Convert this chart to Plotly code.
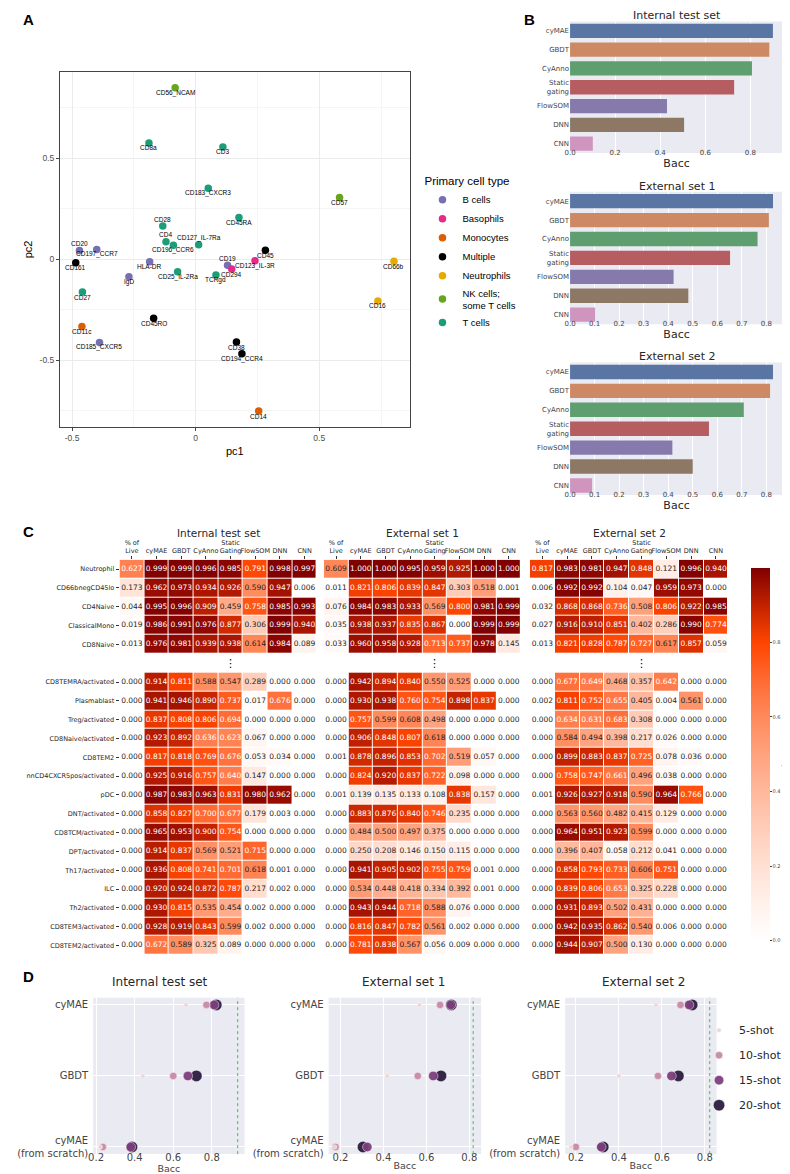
import plotly.graph_objects as go

W, H = 790, 1174
def fx(x): return x / W
def fy(y): return 1 - y / H

FONT = "DejaVu Sans"
GG = "Liberation Sans, Arial, sans-serif"

# ---------------- Panel A data ----------------
marker_names = ["CD56_NCAM", "CD8a", "CD3", "CD183_CXCR3", "CD57", "CD45RA", "CD28", "CD4",
                "CD196_CCR6", "CD127_IL-7Ra", "CD20", "CD197_CCR7", "CD161", "HLA-DR", "CD45",
                "CD123_IL-3R", "CD19", "CD294", "CD25_IL-2Ra", "TCRgd", "IgD", "CD66b", "CD27",
                "CD16", "CD45RO", "CD11c", "CD185_CXCR5", "CD38", "CD194_CCR4", "CD14"]
pc1 = [-0.083, -0.189, 0.110, 0.051, 0.582, 0.175, -0.133, -0.120, -0.090, 0.012, -0.470, -0.400,
       -0.485, -0.186, 0.282, 0.240, 0.129, 0.146, -0.073, 0.082, -0.270, 0.802, -0.458, 0.737,
       -0.170, -0.460, -0.389, 0.165, 0.187, 0.255]
pc2 = [0.849, 0.576, 0.556, 0.352, 0.306, 0.207, 0.164, 0.086, 0.069, 0.072, 0.043, 0.048,
       -0.018, -0.013, 0.044, -0.008, -0.030, -0.049, -0.063, -0.079, -0.087, -0.010, -0.163,
       -0.207, -0.293, -0.334, -0.413, -0.411, -0.469, -0.753]
cell_type = ["NK", "T", "T", "T", "NK", "T", "T", "T", "T", "T", "B", "B", "Multiple", "B", "Multiple",
             "Basophils", "B", "Basophils", "T", "T", "B", "Neutrophils", "T", "Neutrophils",
             "Multiple", "Monocytes", "B", "Multiple", "Multiple", "Monocytes"]
type_keys = ["B", "Basophils", "Monocytes", "Multiple", "Neutrophils", "NK", "T"]
type_labels = ["B cells", "Basophils", "Monocytes", "Multiple", "Neutrophils",
               "NK cells;<br>some T cells", "T cells"]
# style
type_colors = ["#7570b3", "#e7298a", "#d95f02", "#000000", "#e6ab02", "#66a61e", "#1b9e77"]
labels_above = {"CD20", "CD28", "CD4", "CD127_IL-7Ra", "CD19"}

# ---------------- Panel B data ----------------
methods = ["cyMAE", "GBDT", "CyAnno", "Static<br>gating", "FlowSOM", "DNN", "CNN"]
bacc_internal = [0.900, 0.884, 0.807, 0.728, 0.430, 0.506, 0.101]
bacc_ext1 = [0.827, 0.810, 0.764, 0.652, 0.422, 0.482, 0.102]
bacc_ext2 = [0.827, 0.815, 0.708, 0.566, 0.417, 0.500, 0.090]
method_colors = ["#5975a4", "#cc8963", "#5f9e6e", "#b55d60", "#857aab", "#8d7866", "#d095bf"]

# ---------------- Panel C data ----------------
hm_cols = ["% of<br>Live", "cyMAE", "GBDT", "CyAnno", "Static<br>Gating", "FlowSOM", "DNN", "CNN"]
hm_rows = ["Neutrophil", "CD66bnegCD45lo", "CD4Naive", "ClassicalMono", "CD8Naive",
           "CD8TEMRA/activated", "Plasmablast", "Treg/activated", "CD8Naive/activated", "CD8TEM2",
           "nnCD4CXCR5pos/activated", "pDC", "DNT/activated", "CD8TCM/activated", "DPT/activated",
           "Th17/activated", "ILC", "Th2/activated", "CD8TEM3/activated", "CD8TEM2/activated"]
acc_internal = [
    [0.627, 0.999, 0.999, 0.996, 0.985, 0.791, 0.998, 0.997],
    [0.173, 0.962, 0.973, 0.934, 0.926, 0.590, 0.947, 0.006],
    [0.044, 0.995, 0.996, 0.909, 0.459, 0.758, 0.985, 0.993],
    [0.019, 0.986, 0.991, 0.976, 0.877, 0.306, 0.999, 0.940],
    [0.013, 0.976, 0.981, 0.939, 0.938, 0.614, 0.984, 0.089],
    [0.000, 0.914, 0.811, 0.588, 0.547, 0.289, 0.000, 0.000],
    [0.000, 0.941, 0.946, 0.890, 0.737, 0.017, 0.676, 0.000],
    [0.000, 0.837, 0.808, 0.806, 0.694, 0.000, 0.000, 0.000],
    [0.000, 0.923, 0.892, 0.636, 0.623, 0.067, 0.000, 0.000],
    [0.000, 0.817, 0.818, 0.769, 0.676, 0.053, 0.034, 0.000],
    [0.000, 0.925, 0.916, 0.757, 0.640, 0.147, 0.000, 0.000],
    [0.000, 0.987, 0.983, 0.963, 0.831, 0.980, 0.962, 0.000],
    [0.000, 0.858, 0.827, 0.700, 0.677, 0.179, 0.003, 0.000],
    [0.000, 0.965, 0.953, 0.900, 0.754, 0.000, 0.000, 0.000],
    [0.000, 0.914, 0.837, 0.569, 0.521, 0.715, 0.000, 0.000],
    [0.000, 0.936, 0.808, 0.741, 0.701, 0.618, 0.001, 0.000],
    [0.000, 0.920, 0.924, 0.872, 0.787, 0.217, 0.002, 0.000],
    [0.000, 0.930, 0.815, 0.535, 0.454, 0.002, 0.000, 0.000],
    [0.000, 0.928, 0.919, 0.843, 0.599, 0.002, 0.000, 0.000],
    [0.000, 0.672, 0.589, 0.325, 0.089, 0.000, 0.000, 0.000],
]
acc_ext1 = [
    [0.609, 1.000, 1.000, 0.995, 0.959, 0.925, 1.000, 1.000],
    [0.011, 0.821, 0.806, 0.839, 0.847, 0.303, 0.518, 0.001],
    [0.076, 0.984, 0.983, 0.933, 0.569, 0.800, 0.981, 0.999],
    [0.035, 0.938, 0.937, 0.835, 0.867, 0.000, 0.999, 0.999],
    [0.033, 0.960, 0.958, 0.928, 0.713, 0.737, 0.978, 0.145],
    [0.000, 0.942, 0.894, 0.840, 0.550, 0.525, 0.000, 0.000],
    [0.000, 0.930, 0.938, 0.760, 0.754, 0.898, 0.837, 0.000],
    [0.000, 0.757, 0.599, 0.608, 0.498, 0.000, 0.000, 0.000],
    [0.000, 0.906, 0.848, 0.807, 0.618, 0.000, 0.000, 0.000],
    [0.001, 0.878, 0.896, 0.853, 0.702, 0.519, 0.057, 0.000],
    [0.000, 0.824, 0.920, 0.837, 0.722, 0.098, 0.000, 0.000],
    [0.001, 0.139, 0.135, 0.133, 0.108, 0.838, 0.157, 0.000],
    [0.000, 0.883, 0.876, 0.840, 0.746, 0.235, 0.000, 0.000],
    [0.000, 0.484, 0.500, 0.497, 0.375, 0.000, 0.000, 0.000],
    [0.000, 0.250, 0.208, 0.146, 0.150, 0.115, 0.000, 0.000],
    [0.000, 0.941, 0.905, 0.902, 0.755, 0.759, 0.001, 0.000],
    [0.000, 0.534, 0.448, 0.418, 0.334, 0.392, 0.001, 0.000],
    [0.000, 0.943, 0.944, 0.718, 0.588, 0.076, 0.000, 0.000],
    [0.000, 0.816, 0.847, 0.782, 0.561, 0.002, 0.000, 0.000],
    [0.000, 0.781, 0.838, 0.567, 0.056, 0.009, 0.000, 0.000],
]
acc_ext2 = [
    [0.817, 0.983, 0.981, 0.947, 0.848, 0.121, 0.996, 0.940],
    [0.006, 0.992, 0.992, 0.104, 0.047, 0.959, 0.973, 0.000],
    [0.032, 0.868, 0.868, 0.736, 0.508, 0.806, 0.922, 0.985],
    [0.027, 0.916, 0.910, 0.851, 0.402, 0.286, 0.990, 0.774],
    [0.013, 0.821, 0.828, 0.787, 0.727, 0.617, 0.857, 0.059],
    [0.000, 0.677, 0.649, 0.468, 0.357, 0.642, 0.000, 0.000],
    [0.002, 0.811, 0.752, 0.655, 0.405, 0.004, 0.561, 0.000],
    [0.000, 0.634, 0.631, 0.683, 0.308, 0.000, 0.000, 0.000],
    [0.000, 0.584, 0.494, 0.398, 0.217, 0.026, 0.000, 0.000],
    [0.000, 0.899, 0.883, 0.837, 0.725, 0.078, 0.036, 0.000],
    [0.000, 0.758, 0.747, 0.661, 0.496, 0.038, 0.000, 0.000],
    [0.001, 0.926, 0.927, 0.918, 0.590, 0.964, 0.766, 0.000],
    [0.000, 0.563, 0.560, 0.482, 0.415, 0.129, 0.000, 0.000],
    [0.000, 0.964, 0.951, 0.923, 0.599, 0.000, 0.000, 0.000],
    [0.000, 0.396, 0.407, 0.058, 0.212, 0.041, 0.000, 0.000],
    [0.000, 0.858, 0.793, 0.733, 0.606, 0.751, 0.000, 0.000],
    [0.000, 0.839, 0.806, 0.653, 0.325, 0.228, 0.000, 0.000],
    [0.000, 0.931, 0.893, 0.502, 0.431, 0.000, 0.000, 0.000],
    [0.000, 0.942, 0.935, 0.862, 0.540, 0.006, 0.000, 0.000],
    [0.000, 0.944, 0.907, 0.500, 0.130, 0.000, 0.000, 0.000],
]
heat_scale = [[0.0, "#ffffff"], [0.1, "#fff1eb"], [0.2, "#ffe0d3"], [0.3, "#ffcdb9"],
              [0.4, "#ffb89c"], [0.5, "#ffa27e"], [0.6, "#ff8a5c"], [0.7, "#ff6a33"],
              [0.8, "#ff4500"], [0.9, "#c22200"], [1.0, "#800000"]]

# ---------------- Panel D data ----------------
shots = ["5-shot", "10-shot", "15-shot", "20-shot"]
d_models = ["cyMAE", "GBDT", "cyMAE<br>(from scratch)"]
internal_shot = [[0.666, 0.443, 0.222], [0.772, 0.600, 0.235], [0.812, 0.676, 0.380], [0.823, 0.720, 0.386]]
ext1_shot = [[0.568, 0.418, 0.173], [0.664, 0.560, 0.177], [0.714, 0.632, 0.325], [0.716, 0.668, 0.305]]
ext2_shot = [[0.573, 0.400, 0.177], [0.687, 0.582, 0.200], [0.727, 0.645, 0.318], [0.741, 0.677, 0.327]]
full_cymae_bacc = [0.934, 0.818, 0.823]
shot_colors = ["#efd4cf", "#c98ba5", "#7e3f7e", "#2c1d3f"]
shot_sizes = [4.5, 7.5, 9.5, 11.5]

fig = go.Figure()
layout = dict(width=W, height=H, margin=dict(l=0, r=0, t=0, b=0),
              paper_bgcolor="white", plot_bgcolor="white", showlegend=True)
annotations = []
shapes = []

def ann(x, y, text, size, family=FONT, color="#262626", bold=False, **kw):
    if bold:
        text = "<b>" + text + "</b>"
    d = dict(x=fx(x), y=fy(y), xref="paper", yref="paper", text=text, showarrow=False,
             font=dict(family=family, size=size, color=color), xanchor="center", yanchor="middle")
    d.update(kw)
    annotations.append(d)

# ================= Panel A =================
for key, lab, col in zip(type_keys, type_labels, type_colors):
    idx = [i for i, t in enumerate(cell_type) if t == key]
    fig.add_trace(go.Scatter(x=[pc1[i] for i in idx], y=[pc2[i] for i in idx], mode="markers",
                             name=lab, marker=dict(size=7.5, color=col), xaxis="x", yaxis="y",
                             legend="legend", hoverinfo="skip"))
for name, x, y in zip(marker_names, pc1, pc2):
    annotations.append(dict(x=x, y=y, xref="x", yref="y", text=name, showarrow=False,
                            font=dict(family=GG, size=6.5, color="black"),
                            yshift=7 if name in labels_above else -5))
layout["xaxis"] = dict(domain=[fx(47), fx(405)], range=[-0.549, 0.866], anchor="y",
                       tickvals=[-0.5, 0, 0.5], ticktext=["-0.5", "0", "0.5"],
                       showgrid=True, gridcolor="#ebebeb", gridwidth=1, zeroline=False,
                       minor=dict(tickmode="array", tickvals=[-0.25, 0.25, 0.75], showgrid=True,
                                  gridcolor="#f5f5f5", gridwidth=0.7, ticks=""),
                       showline=True, mirror=True, linecolor="#444", linewidth=1,
                       ticks="outside", ticklen=3, tickcolor="#444",
                       tickfont=dict(family=GG, size=8.5, color="#4d4d4d"),
                       title=dict(text="pc1", font=dict(family=GG, size=11, color="black"), standoff=4))
layout["yaxis"] = dict(domain=[fy(421), fy(64)], range=[-0.833, 0.929], anchor="x",
                       tickvals=[-0.5, 0, 0.5], ticktext=["-0.5", "0", "0.5"],
                       showgrid=True, gridcolor="#ebebeb", gridwidth=1, zeroline=False,
                       minor=dict(tickmode="array", tickvals=[-0.75, -0.25, 0.25, 0.75], showgrid=True,
                                  gridcolor="#f5f5f5", gridwidth=0.7, ticks=""),
                       showline=True, mirror=True, linecolor="#444", linewidth=1,
                       ticks="outside", ticklen=3, tickcolor="#444",
                       tickfont=dict(family=GG, size=8.5, color="#4d4d4d"),
                       title=dict(text="pc2", font=dict(family=GG, size=11, color="black"), standoff=4))
layout["legend"] = dict(x=fx(418), y=fy(163), xanchor="left", yanchor="top",
                        title=dict(text="Primary cell type", font=dict(family=GG, size=11.5, color="black")),
                        font=dict(family=GG, size=9.5, color="black"), itemsizing="trace",
                        bgcolor="rgba(0,0,0,0)")

# ================= Panel B =================
b_sets = [(bacc_internal, "Internal test set", (13.6, 145.6), 0.945, 0.2, 8),
          (bacc_ext1, "External set 1", (184.5, 317.5), 0.868, 0.1, 179),
          (bacc_ext2, "External set 2", (356, 489), 0.868, 0.1, 350)]
for k, (vals, title, (y0, y1), xmax, dt, ty) in enumerate(b_sets):
    n = 2 + k
    fig.add_trace(go.Bar(x=vals, y=methods, orientation="h", marker=dict(color=method_colors, line=dict(width=0)),
                         width=0.76, showlegend=False, hoverinfo="skip", xaxis=f"x{n}", yaxis=f"y{n}"))
    layout[f"xaxis{n}"] = dict(domain=[fx(569), fx(787)], range=[0, xmax], anchor=f"y{n}", dtick=dt, tick0=0,
                               tickformat=".1f", showgrid=True, gridcolor="white", gridwidth=1,
                               zeroline=False, showline=False, ticks="", ticklabelstandoff=-6,
                               tickfont=dict(family=FONT, size=7, color="#444"),
                               title=dict(text="Bacc", font=dict(family=FONT, size=11, color="#262626"), standoff=0))
    layout[f"yaxis{n}"] = dict(domain=[fy(y1), fy(y0)], anchor=f"x{n}", autorange="reversed",
                               type="category", showgrid=False, zeroline=False, ticks="",
                               tickfont=dict(family=FONT, size=7, color="#444"))
    shapes.append(dict(type="rect", xref=f"x{n} domain", yref=f"y{n} domain", x0=0, x1=1, y0=0, y1=1,
                       fillcolor="#eaeaf2", line=dict(width=0), layer="below"))
    ann(678, ty, title, 11)

# ================= Panel C =================
c_sets = [(acc_internal, "Internal test set", (108, 310)),
          (acc_ext1, "External set 1", (317, 519)),
          (acc_ext2, "External set 2", (528, 731))]
ytick_vals = [0, 1, 2, 3, 4] + list(range(6, 21))
for k, (mat, title, (x0, x1)) in enumerate(c_sets):
    n = 5 + k
    z = mat[:5] + [[None] * 8] + mat[5:]
    hm = go.Heatmap(z=z, x=list(range(8)), y=list(range(21)), zmin=0, zmax=1, colorscale=heat_scale,
                    xgap=1, ygap=1, hoverinfo="skip", xaxis=f"x{n}", yaxis=f"y{n}", showscale=(k == 2))
    if k == 2:
        hm.colorbar = dict(x=fx(744), xanchor="left", y=fy(552), yanchor="top", len=393, lenmode="pixels",
                           thickness=19, thicknessmode="pixels", outlinewidth=0,
                           tickvals=[0, 0.2, 0.4, 0.6, 0.8], ticktext=["0.0", "0.2", "0.4", "0.6", "0.8"],
                           ticks="outside", ticklen=2, tickfont=dict(family=FONT, size=5, color="#444"),
                           title=dict(text="Accuracy", side="right", font=dict(family=FONT, size=6, color="#444")))
    fig.add_trace(hm)
    tx, ty_, tt, tc = [], [], [], []
    for r, row in enumerate(z):
        if row[0] is None:
            continue
        for c, v in enumerate(row):
            tx.append(c); ty_.append(r); tt.append(f"{v:.3f}")
            tc.append("white" if v >= 0.62 else "#262626")
    fig.add_trace(go.Scatter(x=tx, y=ty_, mode="text", text=tt, textfont=dict(family=FONT, size=7.5, color=tc),
                             hoverinfo="skip", showlegend=False, xaxis=f"x{n}", yaxis=f"y{n}"))
    layout[f"xaxis{n}"] = dict(domain=[fx(x0), fx(x1)], range=[-0.5, 7.5], anchor=f"y{n}", side="top",
                               tickvals=list(range(8)), ticktext=hm_cols, tickangle=0,
                               showgrid=False, zeroline=False,
                               ticks="outside", ticklen=3, tickcolor="#333", tickwidth=0.8,
                               tickfont=dict(family=FONT, size=6.5, color="#262626"))
    layout[f"yaxis{n}"] = dict(domain=[fy(951), fy(554)], range=[20.5, -0.5], anchor=f"x{n}",
                               tickvals=ytick_vals, ticktext=hm_rows, showgrid=False, zeroline=False,
                               showticklabels=(k == 0), ticks="outside" if k == 0 else "",
                               ticklen=3, tickcolor="#333", tickwidth=0.8,
                               tickfont=dict(family=FONT, size=6.5, color="#262626"))
    annotations.append(dict(x=4, y=5, xref=f"x{n}", yref=f"y{n}", text="⋮", showarrow=False,
                            font=dict(family=FONT, size=11, color="black")))
    ann((x0 + x1) / 2, 527, title, 10.5)

# ================= Panel D =================
d_sets = [(internal_shot, "Internal test set", (81, 236), (0.185, 0.97), 149),
          (ext1_shot, "External set 1", (322, 478), (0.145, 0.855), 399),
          (ext2_shot, "External set 2", (564, 719), (0.15, 0.855), 644)]
for k, (data, title, (x0, x1), rng, tcx) in enumerate(d_sets):
    n = 8 + k
    for s in [3, 2, 1, 0]:
        fig.add_trace(go.Scatter(x=data[s], y=[0, 1, 2], mode="markers", name=shots[s],
                                 marker=dict(size=shot_sizes[s], color=shot_colors[s], opacity=0.95,
                                             line=dict(color="white", width=0.5)),
                                 legend="legend2", legendgroup=shots[s], legendrank=s + 1,
                                 showlegend=(k == 0), hoverinfo="skip", xaxis=f"x{n}", yaxis=f"y{n}"))
    layout[f"xaxis{n}"] = dict(domain=[fx(x0), fx(x1)], range=list(rng), anchor=f"y{n}",
                               tickvals=[0.2, 0.4, 0.6, 0.8], tickformat=".1f",
                               showgrid=True, gridcolor="white", gridwidth=1, zeroline=False, ticks="",
                               ticklabelstandoff=-4,
                               tickfont=dict(family=FONT, size=10, color="#444"),
                               title=dict(text="Bacc", font=dict(family=FONT, size=9.5, color="#444"), standoff=0))
    layout[f"yaxis{n}"] = dict(domain=[fy(1151), fy(994)], range=[2.1, -0.1], anchor=f"x{n}",
                               tickvals=[0, 1, 2], ticktext=d_models, showgrid=True, gridcolor="white",
                               zeroline=False, ticks="", ticklabelstandoff=4,
                               tickfont=dict(family=FONT, size=10, color="#444"))
    shapes.append(dict(type="rect", xref=f"x{n} domain", yref=f"y{n} domain", x0=0, x1=1, y0=0, y1=1,
                       fillcolor="#eaeaf2", line=dict(width=0), layer="below"))
    shapes.append(dict(type="line", xref=f"x{n}", yref=f"y{n} domain", x0=full_cymae_bacc[k],
                       x1=full_cymae_bacc[k], y0=0, y1=1, layer="above",
                       line=dict(color="#33cc33", width=1, dash="dot")))
    ann(tcx, 978, title, 12)

layout["legend2"] = dict(x=fx(701), y=fy(1012), xanchor="left", yanchor="top", itemsizing="trace",
                         itemwidth=30, font=dict(family=FONT, size=11, color="#262626"), tracegroupgap=6,
                         bgcolor="rgba(0,0,0,0)")

# Panel letters
ann(15, 12, "A", 15, family=GG, color="black", bold=True)
ann(528, 12, "B", 15, family=GG, color="black", bold=True)
ann(15, 526, "C", 15, family=GG, color="black", bold=True)
ann(15, 973, "D", 15, family=GG, color="black", bold=True)

layout["annotations"] = annotations
layout["shapes"] = shapes
fig.update_layout(**layout)
fig.write_html("out.html")
